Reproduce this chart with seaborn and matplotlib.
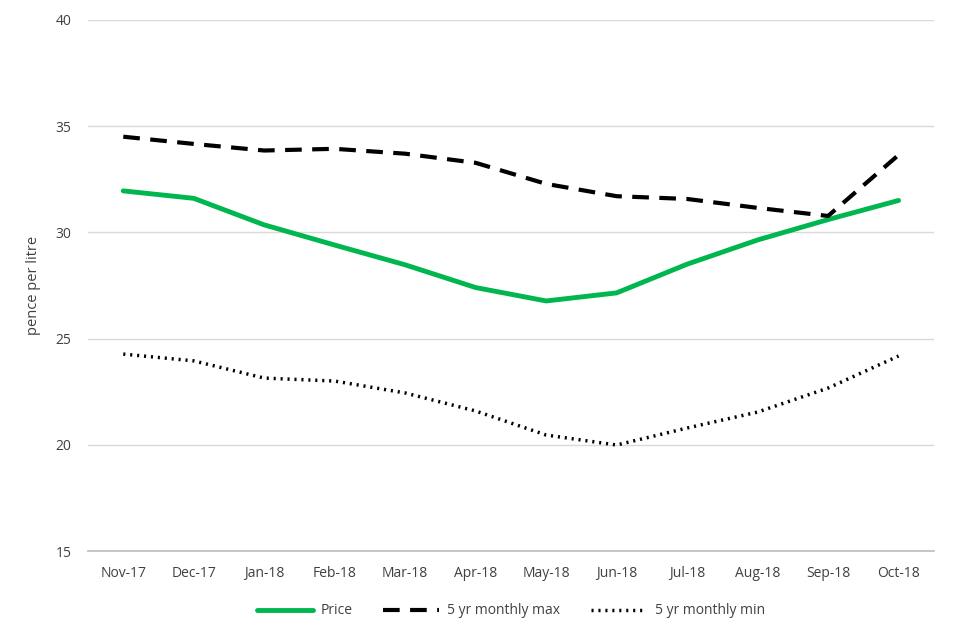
import numpy as np
import pandas as pd
import matplotlib
matplotlib.use("Agg")
import matplotlib.pyplot as plt
import seaborn as sns

months = ['Nov-17', 'Dec-17', 'Jan-18', 'Feb-18', 'Mar-18', 'Apr-18',
          'May-18', 'Jun-18', 'Jul-18', 'Aug-18', 'Sep-18', 'Oct-18']
price = [31.95, 31.6, 30.35, 29.4, 28.47, 27.4, 26.77, 27.15, 28.5, 29.64, 30.6, 31.5]
max5 = [34.5, 34.16, 33.85, 33.93, 33.7, 33.27, 32.28, 31.7, 31.57, 31.15, 30.77, 33.64]
min5 = [24.27, 23.95, 23.14, 23.0, 22.44, 21.59, 20.46, 19.99, 20.79, 21.54, 22.67, 24.18]

df = pd.DataFrame({'month': months, 'Price': price,
                   '5 yr monthly max': max5, '5 yr monthly min': min5})
x = np.arange(len(months))

sns.set_theme(style="white")
plt.rcParams['font.family'] = ['Open Sans', 'DejaVu Sans']

fig = plt.figure(figsize=(9.6, 6.4), dpi=100)
ax = fig.add_axes([0.0917, 0.139, 0.881, 0.830])

for v in [15, 20, 25, 30, 35, 40]:
    ax.axhline(v, color='#d9d9d9', lw=1, zorder=0)

sns.lineplot(x=x, y=df['Price'], ax=ax, color='#00b64f', lw=3.5, label='Price')
sns.lineplot(x=x, y=df['5 yr monthly max'], ax=ax, color='black', lw=3,
             label='5 yr monthly max', linestyle=(0, (4, 2.5)))
sns.lineplot(x=x, y=df['5 yr monthly min'], ax=ax, color='black', lw=2.5,
             label='5 yr monthly min', linestyle=(0, (0.6, 1.4)))

ax.set_xlim(-0.5, len(months) - 0.5)
ax.set_ylim(15, 40)
ax.set_yticks([15, 20, 25, 30, 35, 40])
ax.set_xticks(x)
ax.set_xticklabels(months)
ax.tick_params(axis='both', labelsize=10, colors='#404040', length=0)
ax.tick_params(axis='x', pad=11)
ax.tick_params(axis='y', pad=12)
ax.set_ylabel('pence per litre', fontsize=10.5, color='#404040', labelpad=10)
ax.set_xlabel('')
for s in ['top', 'right', 'left']:
    ax.spines[s].set_visible(False)
ax.spines['bottom'].set_color('#bfbfbf')

ax.legend(loc='upper center', bbox_to_anchor=(0.5, -0.075), ncol=3, frameon=False,
          fontsize=10, handlelength=4, handletextpad=0.6, columnspacing=2.2,
          labelcolor='#404040')

fig.savefig('out.png', dpi=100)
